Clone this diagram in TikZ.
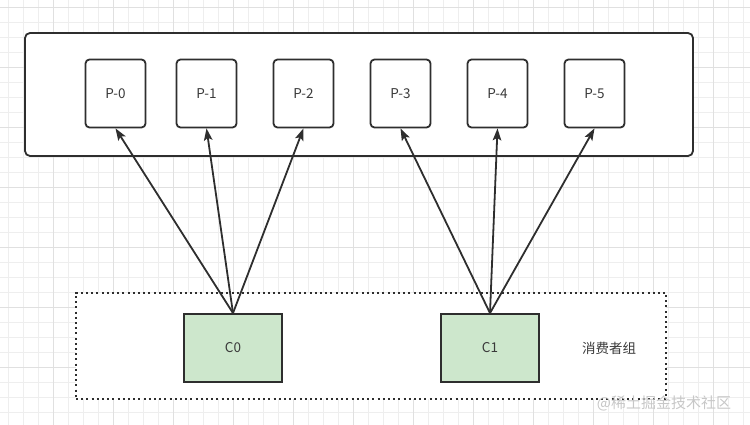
\documentclass[tikz,border=0pt]{standalone}
\usepackage{xcolor}
\usepackage{fontspec}
\usepackage{tikz}
\usetikzlibrary{positioning, arrows.meta}
\newfontfamily\cjk{Noto Sans CJK SC}
\definecolor{darkline}{HTML}{2E2E2E}
\definecolor{labelgray}{HTML}{3A3A3A}
\definecolor{consumergreen}{HTML}{CDE7CC}
\definecolor{gridlight}{HTML}{EEEEEE}
\definecolor{griddark}{HTML}{E0E0E0}

\begin{document}
\begin{tikzpicture}[x=1pt, y=-1pt, font=\cjk\fontsize{13.5}{16}\selectfont]
    % Styles
    \tikzstyle{gridline} = [gridlight, line width=0.8pt]
    \tikzstyle{gridmajor} = [griddark, line width=0.8pt]
    \tikzstyle{panel} = [rectangle, draw=darkline, fill=white, line width=1.8pt, rounded corners=5pt]
    \tikzstyle{group} = [rectangle, draw=darkline, fill=white, line width=2pt,
        dash pattern=on 2pt off 3.2pt]
    \tikzstyle{part} = [rectangle, draw=darkline, fill=white, line width=1.8pt, rounded corners=4pt,
        minimum width=60pt, minimum height=68pt, text=labelgray]
    \tikzstyle{consumer} = [rectangle, draw=darkline, fill=consumergreen, line width=1.8pt,
        minimum width=98pt, minimum height=68pt, text=labelgray]
    \tikzstyle{arrow} = [line width=1.8pt, darkline, -{Stealth[length=12pt, width=8.5pt, inset=2.5pt]}]
    \tikzstyle{watermark} = [text=black!22, font=\cjk\fontsize{15}{17}\selectfont]

    \useasboundingbox (0,0) rectangle (750,425);

    % Background grid
    \foreach \x in {8,23,...,750} \draw[gridline] (\x,0) -- (\x,425);
    \foreach \y in {7,22,...,425} \draw[gridline] (0,\y) -- (750,\y);
    \foreach \x in {53,113,...,750} \draw[gridmajor] (\x,0) -- (\x,425);
    \foreach \y in {7,67,...,425} \draw[gridmajor] (0,\y) -- (750,\y);

    % Topic and consumer group frames
    \node [panel, minimum width=668pt, minimum height=123pt] (topic) at (359,94.5) {};
    \node [group, minimum width=590pt, minimum height=106pt] (grp) at (371,345.5) {};

    % Partitions (top row)
    \node [part] (p0) at (115.5,93.5) {P-0};
    \node [part, right=29.2pt of p0] (p1) {P-1};
    \node [part, right=35.2pt of p1] (p2) {P-2};
    \node [part, right=35.2pt of p2] (p3) {P-3};
    \node [part, right=35.2pt of p3] (p4) {P-4};
    \node [part, right=35.2pt of p4] (p5) {P-5};

    % Consumers
    \node [consumer] (c0) at (233,348) {C0};
    \node [consumer] (c1) at (490,348) {C1};
    \node [text=labelgray] (grplabel) at (609,348) {消费者组};

    % Consumer arrows
    \draw [arrow] (c0.north) -- (p0.south);
    \draw [arrow] (c0.north) -- (p1.south);
    \draw [arrow] (c0.north) -- (p2.south);
    \draw [arrow] (c1.north) -- (p3.south);
    \draw [arrow] (c1.north) -- (p4.south);
    \draw [arrow] (c1.north) -- (p5.south);

    \node [watermark] (mark) at (664,403) {@稀土掘金技术社区};
\end{tikzpicture}
\end{document}
